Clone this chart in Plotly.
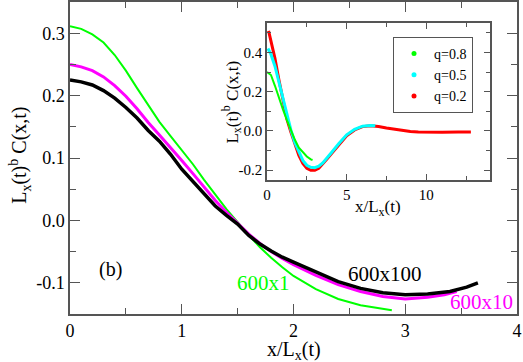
import plotly.graph_objects as go

# main panel: scaled correlation vs x/Lx(t)
green_x = [0.0, 0.1, 0.2, 0.3, 0.4, 0.5, 0.6, 0.7, 0.8, 0.9, 1.0, 1.1, 1.2, 1.3,
           1.4, 1.5, 1.6, 1.7, 1.8, 1.9, 2.0, 2.2, 2.4, 2.6, 2.8, 2.88]
green_y = [0.311, 0.307, 0.298, 0.285, 0.265, 0.240, 0.212, 0.184, 0.158, 0.135,
           0.112, 0.090, 0.065, 0.041, 0.018, -0.003, -0.024, -0.043, -0.060,
           -0.075, -0.089, -0.110, -0.126, -0.136, -0.142, -0.144]

magenta_x = [0.0, 0.1, 0.2, 0.3, 0.4, 0.5, 0.6, 0.7, 0.8, 0.9, 1.0, 1.1, 1.2, 1.3,
             1.4, 1.5, 1.6, 1.7, 1.8, 1.9, 2.0, 2.2, 2.4, 2.6, 2.8, 3.0, 3.2,
             3.35, 3.46]
magenta_y = [0.250, 0.246, 0.240, 0.230, 0.216, 0.199, 0.179, 0.157, 0.137,
             0.117, 0.096, 0.075, 0.053, 0.032, 0.013, -0.005, -0.022, -0.037,
             -0.050, -0.061, -0.071, -0.088, -0.103, -0.114, -0.122, -0.126,
             -0.123, -0.119, -0.114]

black_x = [0.0, 0.1, 0.2, 0.3, 0.4, 0.5, 0.6, 0.7, 0.8, 0.9, 1.0, 1.1, 1.2, 1.3,
           1.4, 1.5, 1.6, 1.7, 1.8, 1.9, 2.0, 2.2, 2.4, 2.6, 2.8, 3.0, 3.2, 3.4,
           3.55, 3.65]
black_y = [0.225, 0.222, 0.217, 0.208, 0.196, 0.181, 0.164, 0.144, 0.127, 0.106,
           0.082, 0.062, 0.042, 0.023, 0.008, -0.006, -0.024, -0.038, -0.049,
           -0.059, -0.067, -0.083, -0.098, -0.109, -0.116, -0.119, -0.118,
           -0.114, -0.107, -0.100]

# inset: different q values
q08_x = [0.0, 0.25, 0.5, 0.75, 1.0, 1.25, 1.5, 1.75, 2.0, 2.25, 2.5, 2.75, 2.86]
q08_y = [0.30, 0.285, 0.23, 0.165, 0.11, 0.055, 0.0, -0.045, -0.085, -0.11,
         -0.13, -0.145, -0.148]

q05_x = [0.06, 0.25, 0.5, 0.75, 1.0, 1.25, 1.5, 1.75, 2.0, 2.25, 2.5, 2.75, 3.0,
         3.25, 3.5, 3.75, 4.0, 4.5, 5.0, 5.5, 6.0, 6.5, 6.8]
q05_y = [0.42, 0.39, 0.33, 0.245, 0.16, 0.08, 0.005, -0.06, -0.11, -0.15, -0.175,
         -0.185, -0.187, -0.18, -0.163, -0.14, -0.115, -0.065, -0.02, 0.008,
         0.024, 0.028, 0.026]

q02_x = [0.1, 0.3, 0.5, 0.75, 1.0, 1.1, 1.25, 1.5, 1.75, 2.0, 2.25, 2.5, 2.75,
         3.0, 3.25, 3.5, 3.75, 4.0, 4.5, 5.0, 5.5, 6.0, 6.5, 7.0, 7.5, 8.0, 8.5,
         9.0, 9.5, 10.0, 11.0, 12.0, 12.8]
q02_y = [0.51, 0.44, 0.37, 0.26, 0.155, 0.11, 0.06, -0.005, -0.07, -0.125,
         -0.165, -0.19, -0.2, -0.2, -0.19, -0.17, -0.145, -0.12, -0.07, -0.025,
         0.005, 0.022, 0.027, 0.023, 0.015, 0.008, 0.002, -0.003, -0.006,
         -0.007, -0.007, -0.006, -0.005]

main_yticks = [-0.1, 0.0, 0.1, 0.2, 0.3]
main_yticktext = ["-0.1", "0.0", "0.1", "0.2", "0.3"]
inset_yticks = [-0.2, 0.0, 0.2, 0.4]
inset_yticktext = ["-0.2", "0.0", "0.2", "0.4"]

FONT = "Liberation Serif"
AX = "#555555"

fig = go.Figure()

fig.add_trace(go.Scatter(x=green_x, y=green_y, mode="lines",
                         line=dict(color="#00ff00", width=2), showlegend=False))
fig.add_trace(go.Scatter(x=magenta_x, y=magenta_y, mode="lines",
                         line=dict(color="#ff00ff", width=3), showlegend=False))
fig.add_trace(go.Scatter(x=black_x, y=black_y, mode="lines",
                         line=dict(color="black", width=3.5), showlegend=False))

fig.add_trace(go.Scatter(x=q02_x, y=q02_y, mode="lines", xaxis="x2", yaxis="y2",
                         line=dict(color="#ff0000", width=3), showlegend=False))
fig.add_trace(go.Scatter(x=q05_x, y=q05_y, mode="lines", xaxis="x2", yaxis="y2",
                         line=dict(color="#00ffff", width=3), showlegend=False))
fig.add_trace(go.Scatter(x=q08_x, y=q08_y, mode="lines", xaxis="x2", yaxis="y2",
                         line=dict(color="#00ff00", width=2), showlegend=False))

# legend entries drawn as dots, like the original
for name, col in [("q=0.8", "#00ff00"), ("q=0.5", "#00ffff"), ("q=0.2", "#ff0000")]:
    fig.add_trace(go.Scatter(x=[None], y=[None], mode="markers", name=name,
                             xaxis="x2", yaxis="y2",
                             marker=dict(color=col, size=5)))

common = dict(showline=True, linecolor=AX, linewidth=1.5, mirror="allticks",
              ticks="inside", tickcolor=AX, showgrid=False, zeroline=False,
              automargin=False,
              tickfont=dict(family=FONT, size=18, color="black"))

fig.update_layout(
    width=523, height=362,
    margin=dict(l=70, r=6, t=2, b=48),
    paper_bgcolor="white", plot_bgcolor="white",
    font=dict(family=FONT, color="black"),
    xaxis=dict(common, range=[0, 4], tickvals=[0, 1, 2, 3, 4], ticklen=10,
               minor=dict(dtick=0.5, ticklen=6, ticks="inside", tickcolor=AX)),
    yaxis=dict(common, range=[-0.15, 0.35], tickvals=main_yticks,
               ticktext=main_yticktext, ticklen=10,
               minor=dict(dtick=0.05, ticklen=6, ticks="inside", tickcolor=AX)),
    xaxis2=dict(common, domain=[0.4407, 0.9396], anchor="y2", range=[0, 14],
                tickvals=[0, 5, 10], ticklen=6,
                tickfont=dict(family=FONT, size=15, color="black"),
                minor=dict(dtick=2.5, ticklen=4, ticks="inside", tickcolor=AX)),
    yaxis2=dict(common, domain=[0.4295, 0.9327], anchor="x2",
                range=[-0.25, 0.55], tickvals=inset_yticks,
                ticktext=inset_yticktext, ticklen=6,
                tickfont=dict(family=FONT, size=15, color="black"),
                minor=dict(dtick=0.1, ticklen=4, ticks="inside", tickcolor=AX)),
    legend=dict(x=0.7226, y=0.888, xanchor="left", yanchor="top",
                bordercolor=AX, borderwidth=1, bgcolor="white",
                font=dict(family=FONT, size=14), tracegroupgap=0),
)

# axis titles placed by hand
ytitle = "L<sub>x</sub>(t)<sup>b</sup> C(x,t)"
xtitle = "x/L<sub>x</sub>(t)"
centred = dict(xref="paper", yref="paper", showarrow=False,
               xanchor="center", yanchor="middle")
fig.add_annotation(centred, x=-0.112, y=0.51, text=ytitle, textangle=-90,
                   font=dict(family=FONT, size=20, color="black"))
fig.add_annotation(centred, x=0.5, y=-0.118, text=xtitle,
                   font=dict(family=FONT, size=20, color="black"))
fig.add_annotation(centred, x=0.3624, y=0.681, text=ytitle, textangle=-90,
                   font=dict(family=FONT, size=17, color="black"))
fig.add_annotation(centred, x=0.689, y=0.340, text=xtitle,
                   font=dict(family=FONT, size=17, color="black"))

# curve labels
labels = dict(showarrow=False, xanchor="center", yanchor="middle")
fig.add_annotation(labels, x=0.36, y=-0.079, text="(b)",
                   font=dict(family=FONT, size=20, color="black"))
fig.add_annotation(labels, x=1.73, y=-0.101, text="600x1",
                   font=dict(family=FONT, size=21, color="#00ff00"))
fig.add_annotation(labels, x=2.82, y=-0.086, text="600x100",
                   font=dict(family=FONT, size=21, color="black"))
fig.add_annotation(labels, x=3.68, y=-0.131, text="600x10",
                   font=dict(family=FONT, size=21, color="#ff00ff"))

# drop the default page margin so the figure sits at the window corner
fig.write_html("out.html", config={"displayModeBar": False},
               post_script="document.body.style.margin='0';")
